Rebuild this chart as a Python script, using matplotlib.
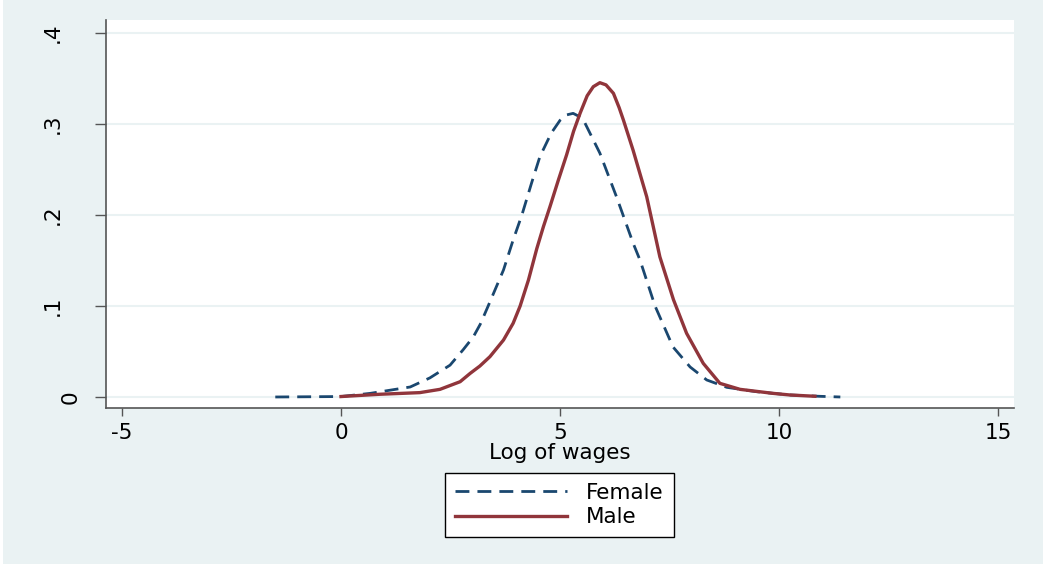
import matplotlib
matplotlib.use("Agg")
import matplotlib.pyplot as plt
from matplotlib.patches import Rectangle
from matplotlib.transforms import ScaledTranslation

plt.rcParams['font.family'] = ['DejaVu Sans']

# Female kernel density
female_x = [-1.5, 0.0, 0.67, 1.58, 2.03, 2.49, 2.79, 3.02, 3.18, 3.36, 3.71, 3.93,
            4.13, 4.35, 4.54, 4.80, 5.00, 5.15, 5.30, 5.45, 5.57, 5.91, 6.29, 6.67, 6.83, 7.17, 7.58,
            7.97, 8.35, 8.81, 9.49, 10.25, 10.9, 11.4]
female_y = [0.0, 0.0005, 0.004, 0.011, 0.021, 0.035, 0.052, 0.066, 0.080, 0.100, 0.1396, 0.1725,
            0.200, 0.235, 0.264, 0.290, 0.304, 0.310, 0.3117, 0.308, 0.301, 0.268, 0.220, 0.169, 0.150, 0.100, 0.055,
            0.033, 0.0187, 0.0106, 0.0058, 0.0022, 0.0008, 0.0]

# Male kernel density
male_x = [0.0, 0.89, 1.80, 2.26, 2.72, 2.95, 3.17, 3.40, 3.71, 3.93, 4.09, 4.28, 4.47, 4.62, 4.77,
          4.96, 5.15, 5.31, 5.46, 5.62, 5.76, 5.91, 6.05, 6.22, 6.35, 6.45, 6.67, 6.98, 7.28, 7.59, 7.89,
          8.27, 8.65, 9.11, 9.86, 10.25, 10.82]
male_y = [0.0005, 0.003, 0.0048, 0.0084, 0.0168, 0.026, 0.034, 0.0443, 0.0626, 0.081, 0.100, 0.1286, 0.163, 0.187, 0.209,
          0.238, 0.266, 0.292, 0.312, 0.331, 0.341, 0.3454, 0.343, 0.3337, 0.318, 0.304, 0.271, 0.220, 0.154, 0.107, 0.070,
          0.037, 0.015, 0.0084, 0.004, 0.0022, 0.0008]

xticks = [-5, 0, 5, 10, 15]
yticks = [0, 0.1, 0.2, 0.3, 0.4]
ytick_labels = ['0', '.1', '.2', '.3', '.4']

BG = '#EAF2F3'
NAVY = '#1a476f'
MAROON = '#90353b'
AXC = '#555555'
FS = 15.5

fig = plt.figure(figsize=(10.43, 5.64), dpi=100, facecolor=BG)
fig.patches.append(Rectangle((0, 0), 3 / 1043, 1, transform=fig.transFigure,
                             facecolor='white', edgecolor='none', zorder=-1))
ax = fig.add_axes([106 / 1043, 1 - 408 / 564, (1014 - 106) / 1043, (408 - 20) / 564])
ax.set_facecolor('white')

l1, = ax.plot(female_x, female_y, color=NAVY, lw=2.0, linestyle=(0, (5.0, 2.9)), label='Female')
l2, = ax.plot(male_x, male_y, color=MAROON, lw=2.4, label='Male')

ax.set_xlim(-5.365, 15.365)
ax.set_ylim(-0.0121, 0.4143)
ax.set_xticks(xticks)
ax.set_xticklabels([str(t) for t in xticks])
ax.set_yticks(yticks)
ax.set_yticklabels(ytick_labels, rotation=90, va='center')

for s in ['top', 'right']:
    ax.spines[s].set_visible(False)
for s in ['left', 'bottom']:
    ax.spines[s].set_color(AXC)
    ax.spines[s].set_linewidth(1.2)

ax.tick_params(axis='both', colors=AXC, labelcolor='black', labelsize=FS, width=1.0)
ax.tick_params(axis='y', length=8, pad=23)
ax.tick_params(axis='x', length=6, pad=5)

# Stata places the "0" label closer to the axis
zero_lab = ax.get_yticklabels()[0]
zero_lab.set_transform(zero_lab.get_transform() + ScaledTranslation(0.18, 0, fig.dpi_scale_trans))

ax.grid(axis='y', color=BG, lw=1.5)
ax.set_axisbelow(True)

ax.set_xlabel('Log of wages', fontsize=FS, labelpad=0)

leg = ax.legend(handles=[l1, l2], loc='center',
                bbox_to_anchor=(559.5 / 1043, 1 - 505 / 564),
                bbox_transform=fig.transFigure,
                fontsize=FS, fancybox=False, framealpha=1,
                edgecolor='black', handlelength=5.2, handletextpad=0.9,
                labelspacing=0.2, borderpad=0.45, borderaxespad=0)
leg.get_frame().set_linewidth(1.0)

fig.savefig('out.png', dpi=100, facecolor=BG)
